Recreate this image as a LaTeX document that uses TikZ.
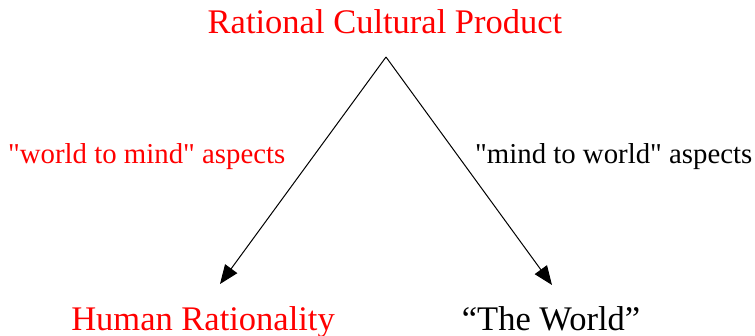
\documentclass[tikz,border=0pt]{standalone}
\usepackage{fontspec}
\newfontfamily\lserif{Liberation Serif}[Mapping=]
\usetikzlibrary{arrows.meta}
\begin{document}
\begin{tikzpicture}[x=1pt,y=-1pt,
  bigtext/.style={font=\lserif\fontsize{34.5}{40}\selectfont, inner sep=0pt, anchor=base},
  labeltext/.style={font=\lserif\fontsize{28.8}{34}\selectfont, inner sep=0pt, anchor=base west},
  conn/.style={line width=1pt, -{Triangle[length=19pt,width=15pt]}}]
\useasboundingbox (0,0) rectangle (755,335);
\node[bigtext, text=red] (top) at (385,33) {Rational Cultural Product};
\node[bigtext, text=red] (human) at (203,330) {Human Rationality};
\node[bigtext] (world) at (551,330) {“The World”};
\node[labeltext, text=red] (wtm) at (8,163) {"world to mind" aspects};
\node[labeltext] (mtw) at (475,163) {"mind to world" aspects};
\coordinate (apex) at (386,57);
\coordinate (lt) at (220,284);
\coordinate (rt) at (552,285);
\draw[conn] (apex) -- (lt);
\draw[conn] (apex) -- (rt);
\end{tikzpicture}
\end{document}
